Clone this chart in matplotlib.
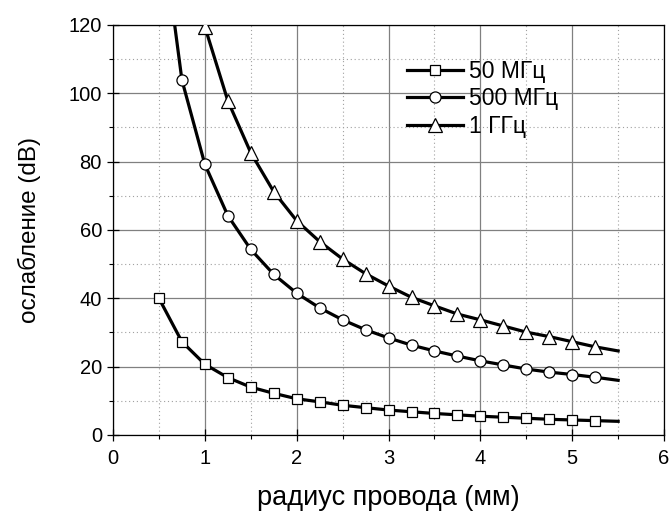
import matplotlib
matplotlib.use("Agg")
import matplotlib.pyplot as plt
from matplotlib.ticker import MultipleLocator

plt.rcParams['font.family'] = ['Liberation Sans', 'DejaVu Sans']

# radius (mm) -> attenuation (dB)
r_50 = [0.5, 0.75, 1.0, 1.25, 1.5, 1.75, 2.0, 2.25, 2.5, 2.75, 3.0, 3.25, 3.5,
        3.75, 4.0, 4.25, 4.5, 4.75, 5.0, 5.25, 5.5]
att_50 = [40.0, 27.3, 20.7, 16.8, 14.0, 12.2, 10.6, 9.7, 8.7, 8.0, 7.3, 6.8,
          6.3, 5.9, 5.5, 5.2, 4.9, 4.6, 4.4, 4.2, 4.0]

r_500 = [0.5, 0.75, 1.0, 1.25, 1.5, 1.75, 2.0, 2.25, 2.5, 2.75, 3.0, 3.25,
         3.5, 3.75, 4.0, 4.25, 4.5, 4.75, 5.0, 5.25, 5.5]
att_500 = [155.0, 103.9, 79.2, 64.2, 54.3, 47.0, 41.5, 37.2, 33.7, 30.8, 28.4,
           26.3, 24.6, 23.1, 21.7, 20.5, 19.3, 18.4, 17.7, 16.9, 16.0]

r_1g = [1.0, 1.25, 1.5, 1.75, 2.0, 2.25, 2.5, 2.75, 3.0, 3.25, 3.5, 3.75,
        4.0, 4.25, 4.5, 4.75, 5.0, 5.25, 5.5]
att_1g = [119.5, 97.8, 82.6, 71.2, 62.7, 56.6, 51.5, 47.2, 43.6, 40.3, 37.8,
          35.4, 33.7, 31.9, 30.1, 28.8, 27.3, 25.8, 24.6]

labels = ['50 МГц', '500 МГц', '1 ГГц']

fig = plt.figure(figsize=(6.72, 5.14), dpi=100)
ax = fig.add_axes([0.1682, 0.1537, 0.820, 0.7977])

series = [(r_50, att_50, 's', 7.5), (r_500, att_500, 'o', 8), (r_1g, att_1g, '^', 10)]
for (x, y, m, ms), lab in zip(series, labels):
    # last point is the end of the line only, no marker there
    ax.plot(x, y, color='black', lw=2.3, marker=m, ms=ms, mfc='white',
            mec='black', mew=0.9, markevery=slice(0, len(x) - 1), label=lab,
            zorder=3)

ax.set_xlim(0, 6)
ax.set_ylim(0, 120)
ax.xaxis.set_major_locator(MultipleLocator(1))
ax.xaxis.set_minor_locator(MultipleLocator(0.5))
ax.yaxis.set_major_locator(MultipleLocator(20))
ax.yaxis.set_minor_locator(MultipleLocator(10))

ax.grid(which='major', color='#808080', lw=0.9, ls='-')
ax.grid(which='minor', color='#a0a0a0', lw=0.8, ls=(0, (1, 2.5)))
ax.set_axisbelow(True)

ax.tick_params(which='major', direction='inout', length=8, width=0.9,
               labelsize=14.5, colors='black', pad=4)
ax.tick_params(axis='x', which='major', pad=6)
ax.tick_params(which='minor', direction='out', length=3, width=0.8)
for s in ax.spines.values():
    s.set_linewidth(0.9)

ax.set_xlabel('радиус провода (мм)', fontsize=19.5, labelpad=12)
ax.set_ylabel('ослабление (dB)', fontsize=17.5, labelpad=20)

ax.legend(loc='upper left', bbox_to_anchor=(0.534, 0.915), frameon=False,
          fontsize=16.5, handlelength=2.45, handletextpad=0.26,
          labelspacing=0.2, borderpad=0, borderaxespad=0)

fig.savefig('out.png', dpi=100)
